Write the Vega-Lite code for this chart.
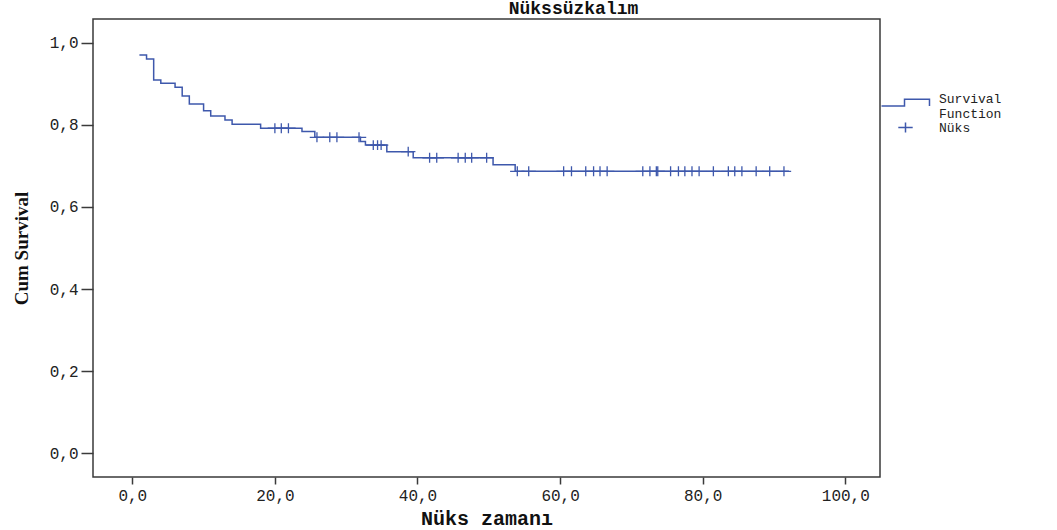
{
  "$schema": "https://vega.github.io/schema/vega-lite/v6.json",
  "width": 787,
  "height": 458,
  "autosize": {"type": "none"},
  "padding": {"left": 93, "top": 19, "right": 177, "bottom": 53},
  "background": "white",
  "title": {"text": "Nükssüzkalım", "font": "Liberation Mono", "fontSize": 18, "fontWeight": "bold", "color": "#111111", "anchor": "middle", "dx": 87, "offset": 1},
  "config": {
    "view": {"stroke": "#3a3a3a", "strokeWidth": 1.5},
    "axis": {"grid": false, "domain": false, "tickColor": "#3a3a3a", "tickWidth": 1.5, "labelFont": "Liberation Mono", "labelFontSize": 16, "labelColor": "#222222"}
  },
  "datasets": {
    "curve": [
      {"t": 1, "s": 0.971}, {"t": 2, "s": 0.961}, {"t": 3, "s": 0.910}, {"t": 4, "s": 0.902},
      {"t": 6, "s": 0.892}, {"t": 7, "s": 0.871}, {"t": 8, "s": 0.851}, {"t": 10, "s": 0.835},
      {"t": 11, "s": 0.822}, {"t": 13, "s": 0.812}, {"t": 14, "s": 0.802}, {"t": 18, "s": 0.792},
      {"t": 23.8, "s": 0.784}, {"t": 25.6, "s": 0.770}, {"t": 32.0, "s": 0.760}, {"t": 32.7, "s": 0.751},
      {"t": 35.7, "s": 0.735}, {"t": 39.4, "s": 0.720}, {"t": 50.6, "s": 0.703}, {"t": 53.7, "s": 0.687},
      {"t": 92.1, "s": 0.687}
    ],
    "censor": [
      {"t": 20.0, "s": 0.792, "kind": "Nüks"}, {"t": 20.9, "s": 0.792, "kind": "Nüks"}, {"t": 21.9, "s": 0.792, "kind": "Nüks"},
      {"t": 25.9, "s": 0.770, "kind": "Nüks"}, {"t": 27.7, "s": 0.770, "kind": "Nüks"}, {"t": 28.7, "s": 0.770, "kind": "Nüks"}, {"t": 31.8, "s": 0.770, "kind": "Nüks"},
      {"t": 33.8, "s": 0.751, "kind": "Nüks"}, {"t": 34.4, "s": 0.751, "kind": "Nüks"}, {"t": 34.9, "s": 0.751, "kind": "Nüks"},
      {"t": 38.7, "s": 0.735, "kind": "Nüks"},
      {"t": 41.7, "s": 0.720, "kind": "Nüks"}, {"t": 42.7, "s": 0.720, "kind": "Nüks"}, {"t": 45.7, "s": 0.720, "kind": "Nüks"},
      {"t": 46.7, "s": 0.720, "kind": "Nüks"}, {"t": 47.6, "s": 0.720, "kind": "Nüks"}, {"t": 49.7, "s": 0.720, "kind": "Nüks"},
      {"t": 54.0, "s": 0.687, "kind": "Nüks"}, {"t": 55.6, "s": 0.687, "kind": "Nüks"}, {"t": 60.5, "s": 0.687, "kind": "Nüks"},
      {"t": 61.6, "s": 0.687, "kind": "Nüks"}, {"t": 63.6, "s": 0.687, "kind": "Nüks"}, {"t": 64.7, "s": 0.687, "kind": "Nüks"},
      {"t": 65.6, "s": 0.687, "kind": "Nüks"}, {"t": 66.6, "s": 0.687, "kind": "Nüks"}, {"t": 71.6, "s": 0.687, "kind": "Nüks"},
      {"t": 72.6, "s": 0.687, "kind": "Nüks"}, {"t": 73.5, "s": 0.687, "kind": "Nüks"}, {"t": 73.7, "s": 0.687, "kind": "Nüks"},
      {"t": 75.5, "s": 0.687, "kind": "Nüks"}, {"t": 76.6, "s": 0.687, "kind": "Nüks"}, {"t": 77.5, "s": 0.687, "kind": "Nüks"},
      {"t": 78.5, "s": 0.687, "kind": "Nüks"}, {"t": 79.5, "s": 0.687, "kind": "Nüks"}, {"t": 81.5, "s": 0.687, "kind": "Nüks"},
      {"t": 83.6, "s": 0.687, "kind": "Nüks"}, {"t": 84.5, "s": 0.687, "kind": "Nüks"}, {"t": 85.5, "s": 0.687, "kind": "Nüks"},
      {"t": 87.5, "s": 0.687, "kind": "Nüks"}, {"t": 89.4, "s": 0.687, "kind": "Nüks"}, {"t": 91.4, "s": 0.687, "kind": "Nüks"}
    ]
  },
  "encoding": {
    "x": {
      "field": "t", "type": "quantitative",
      "scale": {"domain": [-5.51, 104.87], "nice": false, "zero": false},
      "axis": {
        "title": "Nüks zamanı", "values": [0, 20, 40, 60, 80, 100],
        "labelExpr": "replace(format(datum.value, '.1f'), '.', ',')",
        "tickSize": 7, "labelPadding": 3,
        "titleFont": "Liberation Mono", "titleFontSize": 20, "titleFontWeight": "bold", "titleColor": "#111111", "titlePadding": 5
      }
    },
    "y": {
      "field": "s", "type": "quantitative",
      "scale": {"domain": [-0.0585, 1.0585], "nice": false, "zero": false},
      "axis": {
        "title": "Cum Survival", "values": [0, 0.2, 0.4, 0.6, 0.8, 1.0],
        "labelExpr": "replace(format(datum.value, '.1f'), '.', ',')",
        "tickSize": 12, "labelPadding": 3,
        "titleFont": "Liberation Serif", "titleFontSize": 19, "titleFontWeight": "bold", "titleColor": "#111111", "titlePadding": 18
      }
    }
  },
  "layer": [
    {
      "data": {"name": "curve"},
      "mark": {"type": "line", "interpolate": "step-after", "color": "#3e58ac", "strokeWidth": 1.5}
    },
    {
      "data": {"name": "censor"},
      "mark": {"type": "point", "filled": false, "color": "#3e58ac", "size": 81, "strokeWidth": 1.3, "opacity": 1},
      "encoding": {
        "shape": {
          "field": "kind", "type": "nominal",
          "scale": {"domain": ["Survival Function", "Nüks"], "range": ["M-5.33,1.67L-0.22,1.67L-0.22,0.18L5.33,0.18L5.33,1.67", "M-1.6,0L1.6,0M0,-1.1L0,1.1"]},
          "legend": {
            "title": null, "orient": "none", "legendX": 806, "legendY": 73, "padding": 0,
            "symbolStrokeColor": "#3e58ac", "symbolFillColor": "transparent", "symbolStrokeWidth": 1.5, "symbolSize": 81,
            "labelFont": "Liberation Mono", "labelFontSize": 13, "labelColor": "#222222", "labelOffset": 27, "rowPadding": -2,
            "labelExpr": "datum.label == 'Survival Function' ? ['Survival', 'Function'] : datum.label"
          }
        }
      }
    }
  ]
}
